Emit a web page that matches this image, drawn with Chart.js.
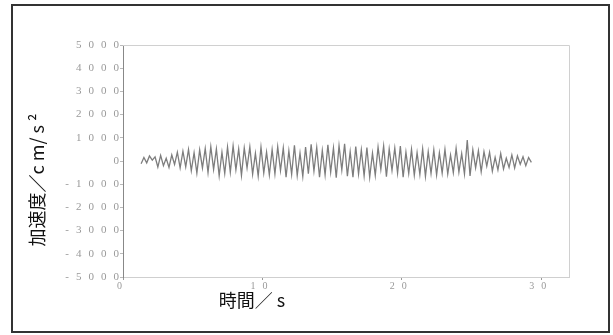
<!DOCTYPE html>
<html>
<head>
<meta charset="utf-8">
<script src="https://cdn.jsdelivr.net/npm/chart.js@4.4.0/dist/chart.umd.min.js"></script>
<style>
  html, body { margin: 0; padding: 0; background: #fff; }
  #wrap { width: 613px; height: 335px; }
</style>
</head>
<body>
<div id="wrap"><canvas id="accChart" width="613" height="335"></canvas></div>
<script>
// time (s) and acceleration (cm/s2)
const times = [
  1.3,1.5,1.7,1.9,2.1,2.3,2.5,2.7,2.9,3.1,
  3.3,3.5,3.7,3.9,4.1,4.3,4.5,4.7,4.9,5.1,
  5.3,5.5,5.7,5.9,6.1,6.3,6.5,6.7,6.9,7.1,
  7.3,7.5,7.7,7.9,8.1,8.3,8.5,8.7,8.9,9.1,
  9.3,9.5,9.7,9.9,10.1,10.3,10.5,10.7,10.9,11.1,
  11.3,11.5,11.7,11.9,12.1,12.3,12.5,12.7,12.9,13.1,
  13.3,13.5,13.7,13.9,14.1,14.3,14.5,14.7,14.9,15.1,
  15.3,15.5,15.7,15.9,16.1,16.3,16.5,16.7,16.9,17.1,
  17.3,17.5,17.7,17.9,18.1,18.3,18.5,18.7,18.9,19.1,
  19.3,19.5,19.7,19.9,20.1,20.3,20.5,20.7,20.9,21.1,
  21.3,21.5,21.7,21.9,22.1,22.3,22.5,22.7,22.9,23.1,
  23.3,23.5,23.7,23.9,24.1,24.3,24.5,24.7,24.9,25.1,
  25.3,25.5,25.7,25.9,26.1,26.3,26.5,26.7,26.9,27.1,
  27.3,27.5,27.7,27.9,28.1,28.3,28.5,28.7,28.9,29.1,
  29.3
]
const accel = [
  -120,150,-80,220,40,180,-260,240,-200,120,
  -280,260,-150,380,-300,420,-250,500,-420,360,
  -520,480,-300,540,-500,620,-360,520,-640,380,
  -540,600,-480,650,-380,520,-620,560,-300,610,
  -570,330,-650,600,-520,380,-600,490,-560,620,
  -410,560,-700,440,-580,680,-620,340,-660,600,
  -550,720,-440,580,-700,450,-600,700,-480,560,
  -720,660,-390,740,-650,400,-700,620,-560,480,
  -640,580,-700,340,-620,600,-360,650,-680,520,
  -400,560,-520,640,-700,380,-540,500,-620,360,
  -580,520,-660,400,-540,480,-600,360,-520,500,
  -560,260,-500,540,-480,320,-560,900,-640,480,
  -300,440,-460,400,-220,380,-440,160,-380,320,
  -340,120,-280,260,-300,220,-140,180,-200,150,
  -60
]
const xTicks = [0, 10, 20, 30]
const yTicks = [5000, 4000, 3000, 2000, 1000, 0, -1000, -2000, -3000, -4000, -5000]
const xTitle = '時間／ s'
const yTitle = '加速度／c m/ s ²'

let points = []
for (let i = 0; i < times.length; i++) {
  points.push({x: times[i], y: accel[i]})
}

// frame, faint plot box and the two axis titles
const decor = {
  id: 'decor',
  beforeDraw(chart) {
    chart.ctx.letterSpacing = '7px'
  },
  afterDraw(chart) {
    const ctx = chart.ctx
    const a = chart.chartArea
    ctx.save()
    ctx.letterSpacing = '0px'
    ctx.strokeStyle = '#d0d0d0'
    ctx.lineWidth = 1
    ctx.beginPath()
    ctx.moveTo(a.left, a.top + 0.5)
    ctx.lineTo(a.right + 0.5, a.top + 0.5)
    ctx.lineTo(a.right + 0.5, a.bottom)
    ctx.stroke()
    ctx.strokeStyle = '#333'
    ctx.lineWidth = 2
    ctx.strokeRect(12, 5, 597, 327)
    ctx.fillStyle = '#111'
    ctx.font = '18px "Noto Sans CJK JP"'
    ctx.textAlign = 'center'
    ctx.textBaseline = 'middle'
    ctx.fillText(xTitle, 252, 300)
    ctx.translate(37, 180)
    ctx.rotate(-Math.PI / 2)
    ctx.fillText(yTitle, 0, 0)
    ctx.restore()
  }
}

new Chart(document.getElementById('accChart'), {
  type: 'line',
  data: {
    datasets: [{
      data: points,
      borderColor: 'rgba(70,70,70,0.7)',
      borderWidth: 1.3,
      pointRadius: 0,
      tension: 0
    }]
  },
  options: {
    responsive: false,
    animation: false,
    layout: { padding: { left: 0, top: 45, right: 44, bottom: 0 } },
    plugins: { legend: { display: false }, tooltip: { enabled: false } },
    scales: {
      x: {
        type: 'linear',
        min: 0,
        max: 32,
        afterFit(scale) { scale.height = 58 },
        afterBuildTicks(scale) { scale.ticks = xTicks.map(v => ({value: v})) },
        grid: { drawOnChartArea: false, tickLength: 3, color: '#999' },
        border: { color: '#cfcfcf', width: 1 },
        ticks: { color: '#999', font: { family: 'Liberation Serif', size: 10 }, padding: 0, maxRotation: 0,
                 callback: v => String(v) }
      },
      y: {
        min: -5000,
        max: 5000,
        afterFit(scale) { scale.width = 123 },
        afterBuildTicks(scale) { scale.ticks = yTicks.map(v => ({value: v})) },
        grid: { drawOnChartArea: false, tickLength: 3, color: '#bbb' },
        border: { color: '#888', width: 1 },
        ticks: { color: '#999', font: { family: 'Liberation Serif', size: 11 }, padding: -6,
                 callback: v => String(v) }
      }
    }
  },
  plugins: [decor]
})
</script>
</body>
</html>
